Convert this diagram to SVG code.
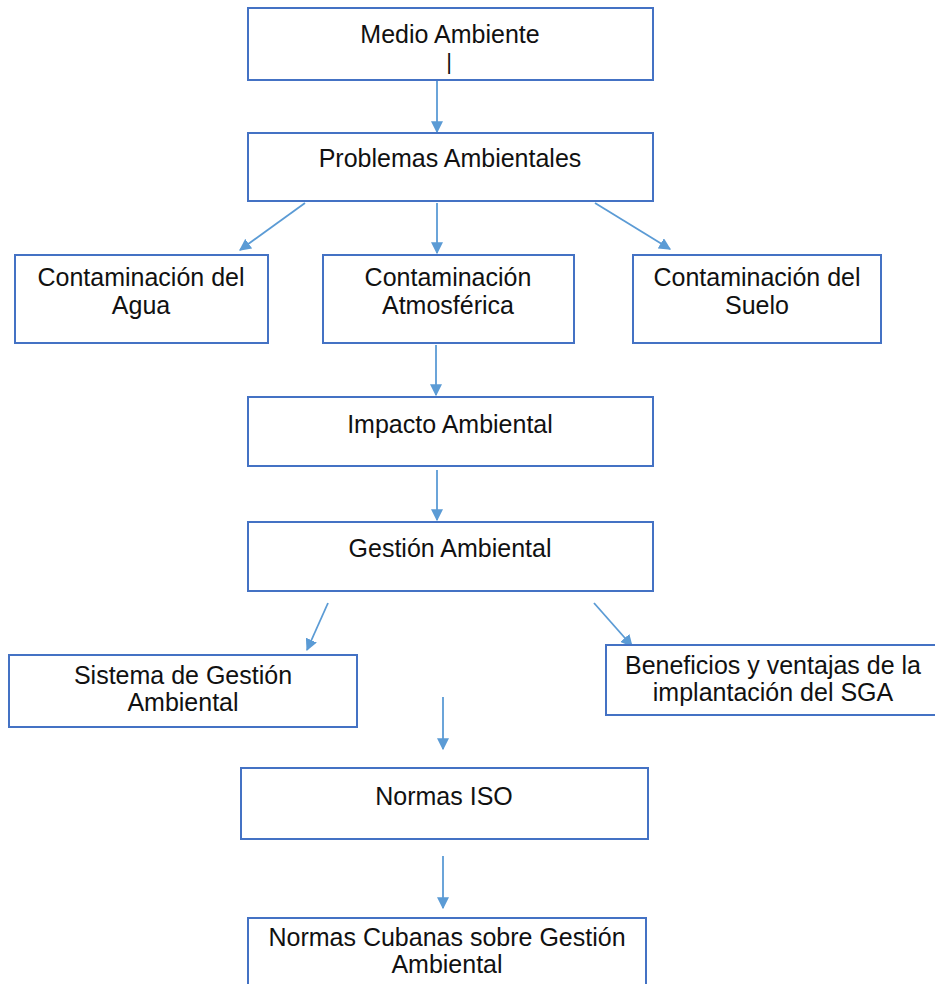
<svg xmlns="http://www.w3.org/2000/svg" width="935" height="984" viewBox="0 0 935 984">
<defs>
<style>
.box{fill:#fff;stroke:#4472C4;stroke-width:2}
.t{font-family:"Liberation Sans",Arial,sans-serif;font-size:25px;fill:#111;text-anchor:middle}
.c{stroke:#5B9BD5;stroke-width:1.8;fill:none;marker-end:url(#ah)}
</style>
<marker id="ah" viewBox="0 0 10 10" refX="9" refY="5" markerWidth="12" markerHeight="12" markerUnits="userSpaceOnUse" orient="auto">
<path d="M0,0 L10,5 L0,10 z" fill="#5B9BD5"/>
</marker>
</defs>
<rect width="935" height="984" fill="#fff"/>
<g id="connectors">
<line class="c" x1="437" y1="81" x2="437" y2="132"/>
<line class="c" x1="305" y1="203" x2="240" y2="250"/>
<line class="c" x1="437" y1="203" x2="437" y2="253"/>
<line class="c" x1="595" y1="203" x2="670" y2="249"/>
<line class="c" x1="436" y1="345" x2="436" y2="395"/>
<line class="c" x1="437" y1="470" x2="437" y2="520"/>
<line class="c" x1="328" y1="603" x2="307" y2="650"/>
<line class="c" x1="594" y1="603" x2="632" y2="646"/>
<line class="c" x1="443" y1="697" x2="443" y2="749"/>
<line class="c" x1="443" y1="856" x2="443" y2="908"/>
</g>
<g id="n1"><rect class="box" x="248" y="8" width="405" height="72"/><text class="t" x="450" y="43">Medio Ambiente</text><text class="t" x="449" y="69" style="font-size:22px">|</text></g>
<g id="n2"><rect class="box" x="248" y="133" width="405" height="68"/><text class="t" x="450" y="167">Problemas Ambientales</text></g>
<g id="n3"><rect class="box" x="15" y="255" width="253" height="88"/><text class="t" x="141" y="286">Contaminación del</text><text class="t" x="141" y="314">Agua</text></g>
<g id="n4"><rect class="box" x="323" y="255" width="251" height="88"/><text class="t" x="448" y="286">Contaminación</text><text class="t" x="448" y="314">Atmosférica</text></g>
<g id="n5"><rect class="box" x="633" y="255" width="248" height="88"/><text class="t" x="757" y="286">Contaminación del</text><text class="t" x="757" y="314">Suelo</text></g>
<g id="n6"><rect class="box" x="248" y="397" width="405" height="69"/><text class="t" x="450" y="433">Impacto Ambiental</text></g>
<g id="n7"><rect class="box" x="248" y="522" width="405" height="69"/><text class="t" x="450" y="557">Gestión Ambiental</text></g>
<g id="n8"><rect class="box" x="9" y="655" width="348" height="72"/><text class="t" x="183" y="684">Sistema de Gestión</text><text class="t" x="183" y="711">Ambiental</text></g>
<g id="n9"><rect class="box" x="606" y="645" width="330" height="70"/><text class="t" x="773" y="674">Beneficios y ventajas de la</text><text class="t" x="773" y="701">implantación del SGA</text></g>
<g id="n10"><rect class="box" x="241" y="768" width="407" height="71"/><text class="t" x="444" y="805">Normas ISO</text></g>
<g id="n11"><rect class="box" x="248" y="918" width="398" height="70"/><text class="t" x="447" y="946">Normas Cubanas sobre Gestión</text><text class="t" x="447" y="973">Ambiental</text></g>
</svg>
